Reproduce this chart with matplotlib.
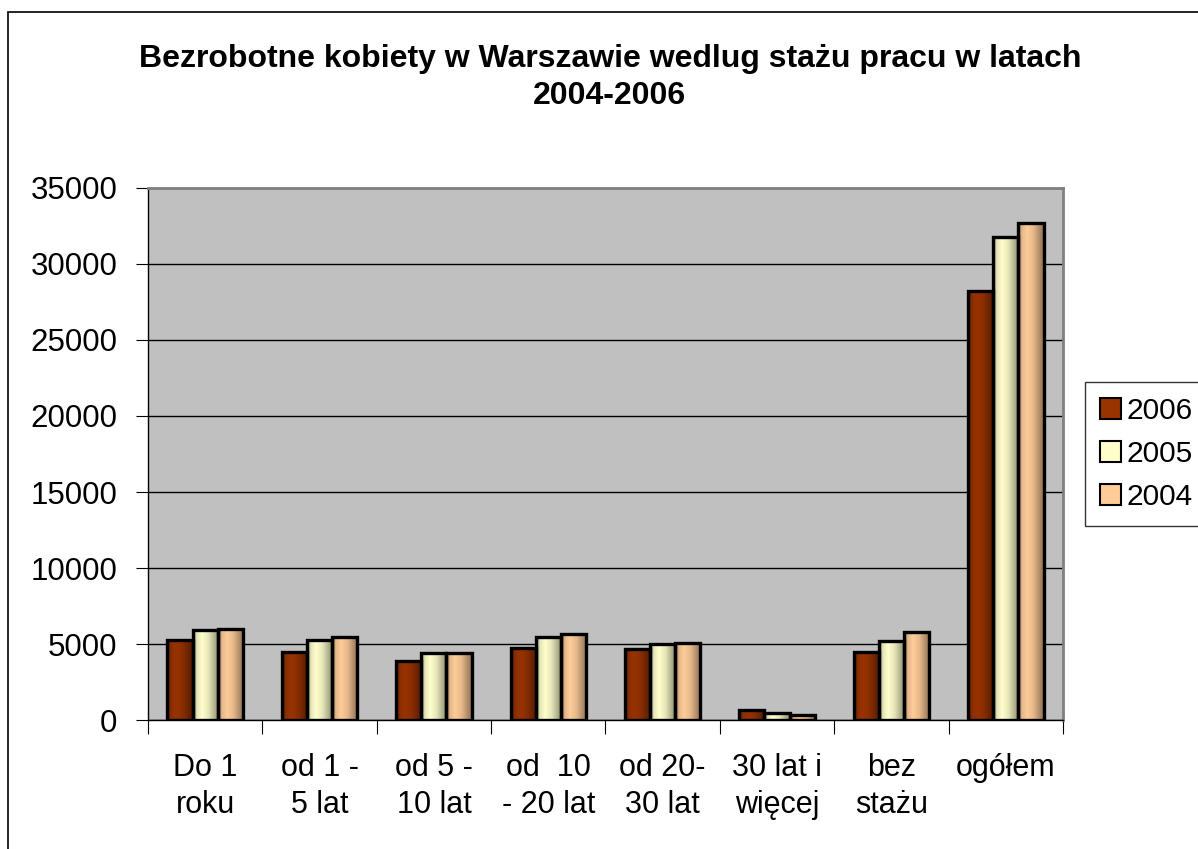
import matplotlib.pyplot as plt
import numpy as np
from matplotlib.colors import to_rgb
from matplotlib.patches import Rectangle

plt.rcParams['font.family'] = ['Liberation Sans', 'DejaVu Sans']

categories = ["Do 1\nroku", "od 1 -\n5 lat", "od 5 -\n10 lat", "od  10\n- 20 lat",
              "od 20-\n30 lat", "30 lat i\nwięcej", "bez\nstażu", "ogółem"]
years = ["2006", "2005", "2004"]
v2006 = [5250, 4490, 3880, 4720, 4700, 660, 4490, 28250]
v2005 = [5920, 5260, 4430, 5480, 5000, 480, 5180, 31800]
v2004 = [6000, 5480, 4390, 5640, 5040, 330, 5810, 32720]
colors = ["#993300", "#FFFFCC", "#FFCC99"]


def shade(ax, bar, color):
    # horizontal gradient like the old Excel bars
    t = np.linspace(0, 1, 64)
    f = np.interp(t, [0, 0.15, 0.35, 0.6, 1.0], [0.55, 0.9, 1.0, 0.9, 0.55])
    rgb = np.array(to_rgb(color))
    img = np.clip(rgb[None, :] * f[:, None], 0, 1)[None, :, :]
    x, y = bar.get_x(), bar.get_y()
    w, h = bar.get_width(), bar.get_height()
    im = ax.imshow(img, extent=(x, x + w, y, y + h), aspect="auto",
                   interpolation="bilinear", zorder=2)
    im.set_clip_path(bar)


fig = plt.figure(figsize=(11.98, 8.49), dpi=100)
fig.patch.set_facecolor("white")
fig.patches.append(Rectangle((8 / 1198, -0.05), 1.1, 1 - 12 / 849 + 0.05,
                             transform=fig.transFigure, fill=False,
                             edgecolor="black", lw=1.2))

ax = fig.add_axes([0.1235, 0.1519, 0.7638, 0.6267])
ax.set_facecolor("#C0C0C0")

x = np.arange(len(categories))
bw = 0.22
handles = []
for i, (vals, c, yr) in enumerate(zip([v2006, v2005, v2004], colors, years)):
    bars = ax.bar(x + (i - 1) * bw, vals, bw, facecolor="none", edgecolor="black",
                  lw=2.4, zorder=3)
    for b in bars:
        shade(ax, b, c)
    handles.append(Rectangle((0, 0), 1, 1, facecolor=c, edgecolor="black", lw=1.5))

ax.set_xlim(-0.5, len(categories) - 0.5)
ax.set_ylim(0, 35000)
ax.set_yticks(np.arange(0, 35001, 5000))
ax.yaxis.grid(True, color="black", lw=1)
ax.set_axisbelow(True)
ax.tick_params(axis="y", labelsize=22.5, length=9, direction="out", pad=13)

ax.set_xticks(np.arange(-0.5, len(categories), 1))
ax.set_xticklabels([])
ax.set_xticks(x, minor=True)
ax.set_xticklabels(categories, minor=True, fontsize=22, linespacing=1.3)
ax.tick_params(axis="x", which="major", length=10, color="black")
ax.tick_params(axis="x", which="minor", length=0, pad=24)

for s in ["top", "right"]:
    ax.spines[s].set_color("#808080")
    ax.spines[s].set_linewidth(2)
ax.spines["left"].set_linewidth(1)
ax.spines["bottom"].set_linewidth(1)

fig.text(0.509, 0.9087, "Bezrobotne kobiety w Warszawie wedlug stażu pracu w latach\n2004-2006",
         ha="center", va="center", fontsize=23, fontweight="bold", linespacing=1.28)

leg = fig.legend(handles, years, loc="upper left", bbox_to_anchor=(1085 / 1198, 1 - 382 / 849),
                 fontsize=21.5, frameon=True, fancybox=False, edgecolor="black",
                 handlelength=0.7, handleheight=0.7, handletextpad=0.2,
                 labelspacing=0.5, borderpad=0.5, borderaxespad=0)
leg.get_frame().set_linewidth(1)

fig.savefig("out.png", dpi=100)
